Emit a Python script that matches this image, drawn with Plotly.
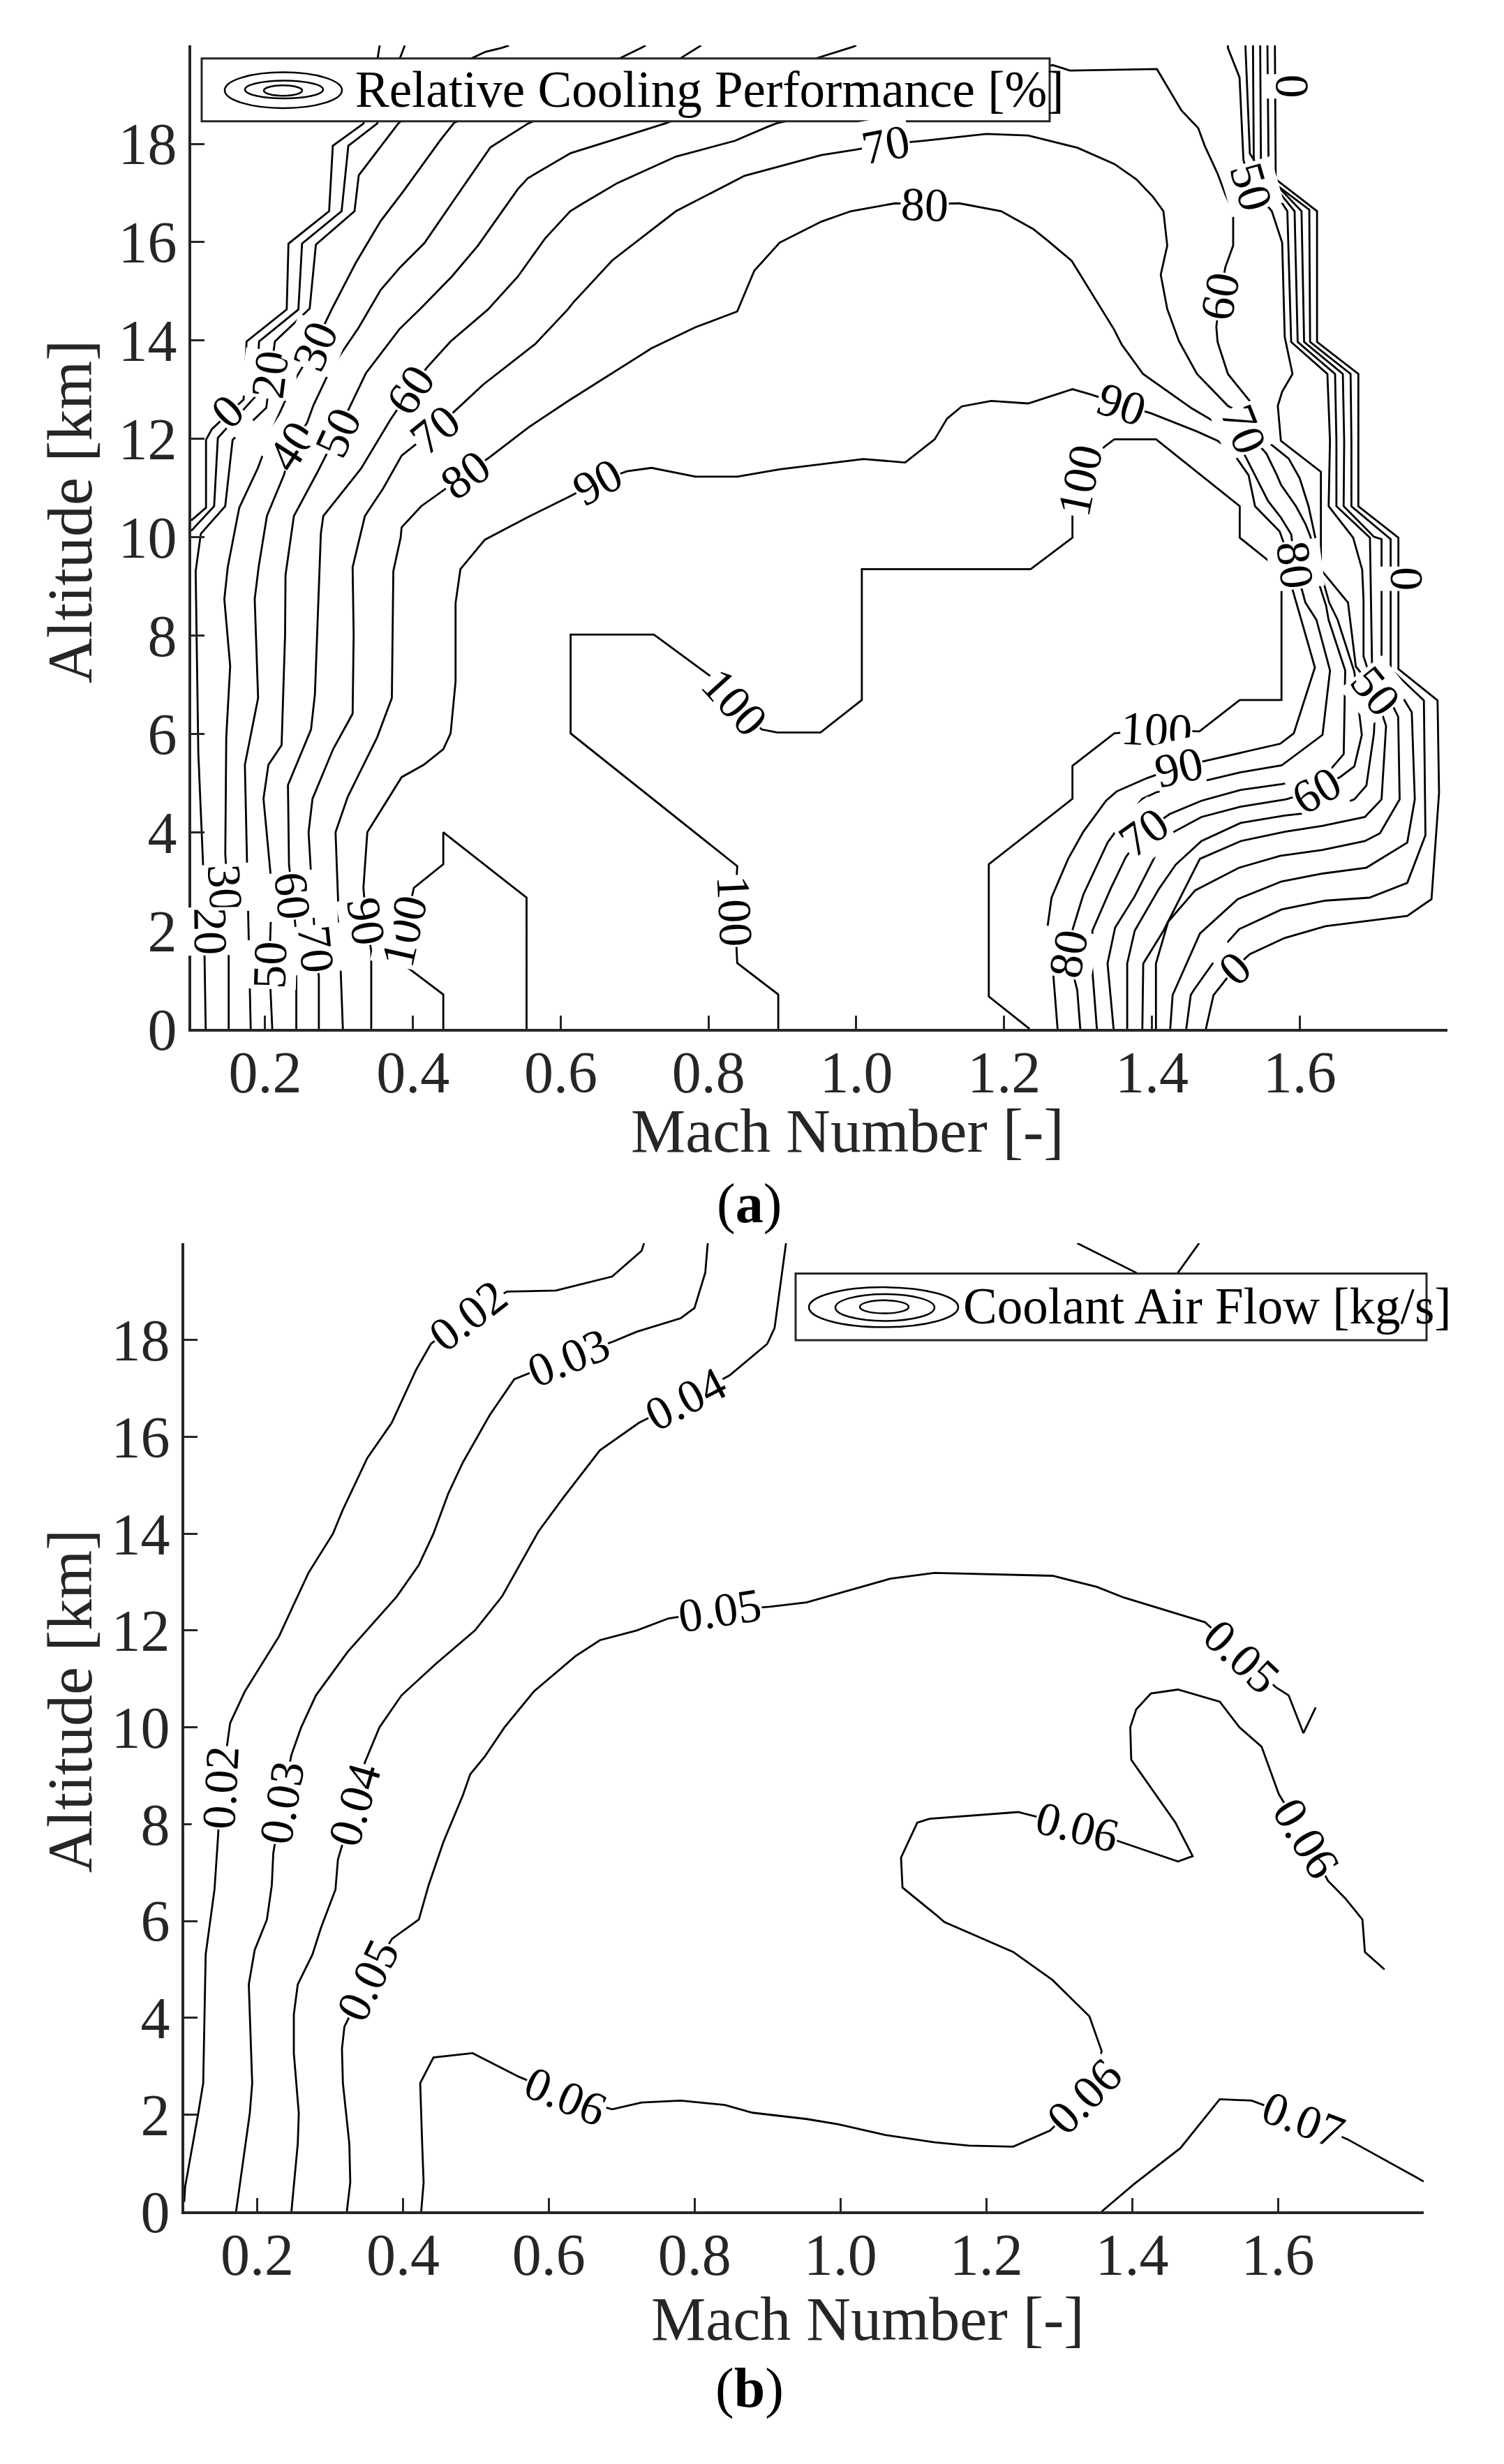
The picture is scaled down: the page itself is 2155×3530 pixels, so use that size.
import math

import plotly.graph_objects as go

# ---------------------------------------------------------------------------
# axis ticks
mach_ticks = [0.2, 0.4, 0.6, 0.8, 1.0, 1.2, 1.4, 1.6]
mach_tick_text = ["0.2", "0.4", "0.6", "0.8", "1.0", "1.2", "1.4", "1.6"]
alt_ticks = [0, 2, 4, 6, 8, 10, 12, 14, 16, 18, 20]
alt_tick_text = ["0", "2", "4", "6", "8", "10", "12", "14", "16", "18", ""]

# ---------------------------------------------------------------------------
# (a) relative cooling performance [%]  -- contour lines as (Mach, altitude km)
a_000_left = [(0.355, 20.0), (0.352, 19.72), (0.333, 18.41), (0.2916, 17.96), (0.2866, 16.63),
              (0.2316, 15.97), (0.2292, 14.63), (0.1749, 13.98), (0.1709, 12.80), (0.128, 12.2),
              (0.12, 11.98), (0.12, 10.6), (0.1, 10.34)]
a_010_left = [(0.389, 20.0), (0.382, 19.72), (0.3515, 18.41), (0.3126, 17.96), (0.3035, 16.63),
              (0.250, 15.97), (0.245, 14.63), (0.1918, 13.98), (0.188, 12.88), (0.136, 12.02),
              (0.131, 10.63), (0.1, 10.13)]
a_020_left = [(0.53, 20.0), (0.52, 19.95), (0.498, 19.87), (0.478, 19.73), (0.38, 18.41),
              (0.3267, 17.36), (0.321, 16.63), (0.2687, 15.95), (0.2603, 14.65), (0.2132, 13.98),
              (0.2015, 12.63), (0.174, 12.24), (0.156, 11.98), (0.146, 10.63), (0.113, 10.07),
              (0.106, 9.31), (0.1096, 5.61), (0.116, 3.35), (0.118, 1.26), (0.1196, 0.0)]
a_030_left = [(0.715, 20.0), (0.71, 19.96), (0.68, 19.74), (0.456, 18.43), (0.4374, 18.08),
              (0.4205, 17.73), (0.3868, 17.03), (0.3564, 16.43), (0.3227, 15.58), (0.2906, 14.65),
              (0.2788, 14.28), (0.2677, 13.88), (0.24, 13.2), (0.211, 12.24), (0.19, 11.4),
              (0.165, 10.6), (0.1494, 9.39), (0.1448, 8.74), (0.1527, 7.38), (0.1474, 5.93),
              (0.1461, 3.56), (0.1507, 2.39), (0.1507, 0.0)]
a_040_left = [(0.79, 20.0), (0.76, 19.72), (0.5555, 18.41), (0.5049, 17.93), (0.4543, 16.83),
              (0.4155, 15.98), (0.3834, 15.5), (0.3564, 15.03), (0.3261, 14.25), (0.2889, 13.43),
              (0.2653, 12.68), (0.2569, 12.33), (0.236, 11.85), (0.2256, 11.27), (0.2024, 10.43),
              (0.1912, 9.39), (0.1859, 8.74), (0.1905, 6.73), (0.1726, 5.37), (0.176, 3.19),
              (0.1805, 0.0)]
a_050_left = [(1.0, 20.0), (0.993, 19.96), (0.946, 19.74), (0.7428, 18.42), (0.6665, 18.06),
              (0.6135, 17.81), (0.5555, 17.3), (0.542, 17.08), (0.488, 15.93), (0.4526, 15.3),
              (0.4104, 14.65), (0.3817, 14.23), (0.3362, 13.33), (0.3159, 12.7), (0.298, 12.13),
              (0.27, 11.3), (0.2389, 10.43), (0.2276, 9.23), (0.227, 8.02), (0.2223, 5.77),
              (0.2044, 5.37), (0.1978, 4.68), (0.2091, 2.87), (0.2057, 1.30), (0.2097, 0.0)]
a_060 = [(0.2422, 0.0), (0.2422, 1.91), (0.2369, 2.71), (0.2323, 3.35), (0.2309, 4.96),
         (0.2621, 6.09), (0.2674, 6.81), (0.2754, 10.07), (0.2787, 10.43), (0.33, 11.4),
         (0.37, 12.4), (0.397, 13.0), (0.4189, 13.45), (0.4509, 13.98), (0.5015, 14.63),
         (0.542, 15.3), (0.5791, 16.08), (0.6129, 16.63), (0.6291, 16.78), (0.6764, 17.2),
         (0.756, 17.74), (0.8356, 18.06), (0.8806, 18.35), (0.893, 18.42), (1.1, 19.1),
         (1.2659, 19.6), (1.2892, 19.49), (1.4068, 19.52), (1.44, 18.68), (1.4627, 18.32),
         (1.4715, 17.96), (1.489, 17.39), (1.4994, 16.97), (1.51, 16.63), (1.51, 15.93),
         (1.4994, 15.49), (1.4924, 14.9), (1.4872, 14.28), (1.4889, 13.97), (1.5029, 13.32),
         (1.5151, 13.09), (1.5379, 12.67), (1.5553, 11.96), (1.585, 11.6), (1.60, 11.2),
         (1.612, 10.63), (1.621, 10.0), (1.63, 9.2), (1.64, 8.67), (1.6514, 8.32),
         (1.674, 7.26), (1.6841, 5.98), (1.674, 5.34), (1.6554, 5.13), (1.6227, 4.86),
         (1.5817, 4.67), (1.5202, 4.52), (1.467, 4.31), (1.4301, 4.01), (1.4076, 3.61),
         (1.3768, 2.7), (1.3502, 2.06), (1.34, 1.33), (1.3482, 0.0)]
a_070 = [(0.2727, 0.0), (0.2727, 1.06), (0.2687, 1.63), (0.2654, 2.31), (0.2588, 4.0),
         (0.2641, 4.68), (0.292, 5.69), (0.3184, 6.41), (0.3198, 8.02), (0.3184, 9.39),
         (0.335, 10.43), (0.36, 11.0), (0.3848, 11.66), (0.43, 12.2), (0.4577, 12.58),
         (0.4948, 13.1), (0.5656, 13.93), (0.6095, 14.63), (0.6168, 14.77), (0.6698, 15.63),
         (0.756, 16.63), (0.8488, 17.35), (0.9529, 17.77), (0.9995, 17.88), (1.0395, 17.99),
         (1.0894, 18.06), (1.176, 18.2), (1.2326, 18.17), (1.2992, 17.92), (1.3492, 17.59),
         (1.3789, 17.28), (1.4016, 16.92), (1.4156, 16.63), (1.4208, 15.93), (1.412, 15.34),
         (1.4208, 14.64), (1.4365, 13.99), (1.461, 13.32), (1.5029, 12.67), (1.5151, 12.57),
         (1.525, 12.2), (1.555, 11.7), (1.5693, 11.26), (1.5746, 11.07), (1.595, 10.63),
         (1.6078, 10.27), (1.6147, 10.01), (1.6235, 9.18), (1.6357, 8.61), (1.6391, 8.32),
         (1.6616, 7.29), (1.6596, 5.59), (1.635, 5.16), (1.5756, 4.98), (1.5202, 4.86),
         (1.467, 4.64), (1.424, 4.37), (1.3891, 4.0), (1.3646, 3.49), (1.3441, 2.85),
         (1.3195, 2.0), (1.3187, 1.33), (1.3256, 0.0)]
a_080 = [(0.3052, 0.0), (0.2986, 2.87), (0.2953, 4.0), (0.3118, 4.72), (0.3516, 5.93),
         (0.3715, 6.73), (0.3735, 9.31), (0.3834, 9.99), (0.3847, 10.2), (0.4112, 10.63),
         (0.4709, 11.27), (0.504, 11.63), (0.557, 12.24), (0.61, 12.77), (0.7228, 13.84),
         (0.7824, 14.27), (0.8388, 14.59), (0.862, 15.42), (0.8963, 15.99), (0.953, 16.42),
         (0.9929, 16.63), (1.0528, 16.79), (1.0928, 16.77), (1.1394, 16.79), (1.196, 16.63),
         (1.2392, 16.27), (1.2583, 16.04), (1.2915, 15.62), (1.349, 14.22), (1.3591, 13.92),
         (1.388, 13.32), (1.454, 12.62), (1.489, 12.31), (1.5169, 11.93), (1.5483, 11.0),
         (1.557, 10.74), (1.5746, 10.4), (1.5885, 10.06), (1.5938, 9.44), (1.6043, 8.85),
         (1.6078, 8.67), (1.6227, 8.32), (1.6411, 7.29), (1.6309, 5.98), (1.5756, 5.36),
         (1.5202, 5.22), (1.4178, 4.86), (1.4055, 4.81), (1.3871, 4.68), (1.3564, 4.13),
         (1.34, 3.79), (1.3072, 2.73), (1.2929, 2.03), (1.2867, 1.52), (1.299, 0.79),
         (1.3031, 0.0)]
a_090 = [(0.3436, 0.0), (0.3436, 1.58), (0.337, 2.19), (0.333, 2.87), (0.3383, 4.0),
         (0.3847, 5.12), (0.4145, 5.37), (0.4411, 5.69), (0.451, 6.01), (0.4577, 7.06),
         (0.4577, 8.66), (0.4643, 9.35), (0.4974, 9.95), (0.5571, 10.42), (0.6135, 10.84),
         (0.65, 11.13), (0.6897, 11.34), (0.7229, 11.41), (0.7825, 11.23), (0.8389, 11.23),
         (0.8963, 11.38), (0.953, 11.49), (1.0095, 11.59), (1.0661, 11.52), (1.1061, 11.99),
         (1.1227, 12.41), (1.1427, 12.66), (1.1826, 12.77), (1.2326, 12.72), (1.2925, 13.01),
         (1.3158, 12.91), (1.359, 12.7), (1.399, 12.52), (1.461, 12.15), (1.489, 11.96),
         (1.5082, 11.75), (1.5309, 11.26), (1.5396, 10.63), (1.5728, 10.12), (1.5816, 9.75),
         (1.5885, 9.03), (1.6025, 8.3), (1.6206, 7.35), (1.592, 6.01), (1.5735, 5.80),
         (1.4752, 5.46), (1.4365, 5.33), (1.3932, 5.1), (1.3523, 4.83), (1.3379, 4.64),
         (1.3072, 4.01), (1.2867, 3.46), (1.2642, 2.67), (1.2589, 2.09), (1.2654, 1.33),
         (1.2724, 0.0)]
a_100_left = [(0.5538, 0.0), (0.5538, 2.67), (0.4411, 4.0), (0.4411, 3.35), (0.4013, 2.87),
              (0.388, 1.99), (0.3847, 1.34), (0.4411, 0.70), (0.4411, 0.0)]
a_100_mid = [(0.8944, 0.0), (0.8944, 0.70), (0.8389, 1.34), (0.8356, 2.4), (0.8389, 3.31),
             (0.6134, 6.01), (0.6134, 8.02), (0.7261, 8.02), (0.8057, 7.14), (0.8356, 6.65),
             (0.872, 6.09), (0.893, 6.03), (0.9516, 6.03), (1.0075, 6.69), (1.0075, 9.35),
             (1.236, 9.35), (1.2925, 9.99), (1.2925, 10.45), (1.3025, 11.16), (1.3358, 11.84),
             (1.3491, 11.99), (1.4057, 11.99), (1.5189, 10.63), (1.5189, 9.99), (1.5754, 9.31),
             (1.5754, 6.69), (1.5189, 6.69), (1.4643, 6.05), (1.4057, 6.09), (1.3491, 6.01),
             (1.2925, 5.35), (1.2925, 4.68), (1.1793, 3.35), (1.1793, 0.66), (1.2346, 0.0)]
a_050_right = [(1.5029, 20.0), (1.5029, 19.95), (1.5186, 19.35), (1.5239, 17.67), (1.5344, 17.13),
               (1.5623, 16.63), (1.5763, 15.99), (1.5798, 14.07), (1.5903, 13.32), (1.5763, 12.96),
               (1.5704, 12.67), (1.5746, 11.96), (1.6287, 11.33), (1.6287, 9.34), (1.6654, 8.67),
               (1.6742, 7.58), (1.676, 7.37), (1.703, 6.87), (1.7005, 6.01), (1.6903, 4.95),
               (1.674, 4.67), (1.6329, 4.43), (1.5797, 4.34), (1.5202, 4.19), (1.467, 3.82),
               (1.4322, 3.34), (1.4096, 2.85), (1.3768, 2.0), (1.3666, 1.33), (1.3666, 0.0)]
a_040_right = [(1.5267, 20.0), (1.5267, 19.95), (1.5326, 17.8), (1.5833, 16.63), (1.5885, 13.97),
               (1.6375, 13.32), (1.641, 11.96), (1.6392, 10.63), (1.6724, 9.99), (1.6846, 9.34),
               (1.6864, 8.72), (1.6864, 7.58), (1.7169, 6.16), (1.7108, 4.67), (1.6882, 4.31),
               (1.6309, 4.13), (1.5797, 4.01), (1.5202, 3.82), (1.465, 3.46), (1.4158, 2.0),
               (1.3883, 1.33), (1.3871, 0.0)]
a_030_right = [(1.5368, 20.0), (1.5368, 19.95), (1.5379, 17.65), (1.5931, 16.63), (1.5973, 13.97),
               (1.6479, 13.32), (1.6497, 11.96), (1.6497, 10.63), (1.6951, 9.99), (1.6979, 7.42),
               (1.7333, 6.35), (1.7353, 4.67), (1.7087, 3.98), (1.6882, 3.82), (1.6309, 3.64),
               (1.5735, 3.52), (1.5182, 3.28), (1.4588, 2.82), (1.422, 2.18), (1.4055, 1.33),
               (1.4055, 0.0)]
a_020_right = [(1.5466, 20.0), (1.5466, 19.95), (1.5476, 17.49), (1.6025, 16.63), (1.606, 13.97),
               (1.6584, 13.32), (1.6602, 11.96), (1.6595, 10.63), (1.7004, 10.01), (1.7108, 9.96),
               (1.7108, 7.45), (1.7517, 6.44), (1.7558, 4.67), (1.7456, 3.79), (1.6903, 3.28),
               (1.6309, 3.16), (1.5756, 3.0), (1.5161, 2.64), (1.465, 1.94), (1.4281, 0.69),
               (1.4248, 0.0)]
a_010_right = [(1.5564, 20.0), (1.5564, 19.95), (1.5581, 17.28), (1.613, 16.66), (1.6141, 13.97),
               (1.6689, 13.32), (1.67, 11.96), (1.67, 10.63), (1.7231, 9.96), (1.7231, 7.32),
               (1.7681, 6.68), (1.7702, 3.94), (1.7456, 2.97), (1.6944, 2.67), (1.635, 2.61),
               (1.5756, 2.43), (1.5182, 2.03), (1.5038, 1.79), (1.4567, 0.79), (1.4526, 0.69),
               (1.4465, 0.0)]
a_000_right = [(1.5665, 20.0), (1.5665, 19.95), (1.5676, 17.28), (1.6235, 16.63), (1.6235, 13.97),
               (1.6794, 13.32), (1.6794, 11.96), (1.6794, 10.63), (1.7336, 9.99), (1.7336, 7.32),
               (1.7866, 6.68), (1.7886, 4.8), (1.7784, 2.64), (1.7456, 2.3), (1.635, 2.09),
               (1.5797, 1.85), (1.5325, 1.52), (1.5121, 1.24), (1.4936, 0.88), (1.4834, 0.69),
               (1.4731, 0.0)]

a_label_text = ["0", "20", "30", "40", "50", "60", "70", "80", "90",
                "70", "80", "0", "50", "60", "90", "100", "70", "80", "0", "50",
                "100", "90", "70", "60", "80", "0", "100", "100", "100", "90",
                "70", "60", "50", "30", "20"]
a_label_mach = [0.149, 0.2063, 0.2677, 0.236, 0.298, 0.397, 0.43, 0.4709, 0.65,
                1.0395, 1.0928, 1.5903, 1.5344, 1.4924, 1.359, 1.3025, 1.525, 1.5938, 1.7458, 1.703,
                1.4057, 1.4365, 1.3891, 1.6227, 1.2867, 1.5121, 0.8356, 0.8356, 0.388, 0.337,
                0.2687, 0.2369, 0.2057, 0.146, 0.1262]
a_label_alt = [12.56, 13.3, 13.88, 11.85, 12.13, 13.0, 12.2, 11.27, 11.13,
               17.99, 16.77, 19.17, 17.13, 14.9, 12.7, 11.16, 12.2, 9.44, 9.16, 6.87,
               6.09, 5.33, 4.0, 4.86, 1.52, 1.24, 6.65, 2.4, 1.99, 2.19,
               1.63, 2.71, 1.30, 2.87, 1.99]

# ---------------------------------------------------------------------------
# (b) coolant air flow [kg/s]
b_002 = [(0.1, 0.2), (0.1012, 0.51), (0.1192, 2.03), (0.126, 2.65), (0.1294, 5.31), (0.1361, 6.03),
         (0.1415, 6.65), (0.1462, 7.71), (0.15, 8.75), (0.1596, 9.72), (0.163, 10.09),
         (0.1831, 10.74), (0.21, 11.39), (0.2301, 11.88), (0.2503, 12.54), (0.2704, 13.19),
         (0.304, 14.0), (0.3174, 14.49), (0.351, 15.56), (0.3846, 16.29), (0.4182, 17.39),
         (0.4383, 17.92), (0.4887, 18.5), (0.5425, 19.0), (0.6097, 19.02), (0.6668, 19.23),
         (0.6869, 19.31), (0.7272, 19.84), (0.7306, 20.0)]
b_003 = [(0.1711, 0.0), (0.1899, 2.03), (0.1932, 2.65), (0.1885, 4.69), (0.1966, 5.4),
         (0.2134, 6.03), (0.2201, 6.74), (0.2221, 7.4), (0.234, 8.45), (0.247, 9.43),
         (0.2604, 10.0), (0.2806, 10.66), (0.3242, 11.56), (0.3578, 12.13), (0.3914, 12.7),
         (0.4216, 13.35), (0.4418, 14.0), (0.4619, 14.82), (0.4821, 15.47), (0.519, 16.45),
         (0.5526, 17.19), (0.6265, 17.64), (0.687, 17.96), (0.7206, 18.17), (0.781, 18.45),
         (0.7998, 18.66), (0.8146, 19.39), (0.818, 20.0)]
b_004 = [(0.247, 0.0), (0.2557, 1.4), (0.2571, 2.03), (0.2503, 3.27), (0.2503, 4.07),
         (0.2557, 4.69), (0.2759, 5.31), (0.2873, 5.85), (0.3074, 6.65), (0.3108, 7.27),
         (0.333, 8.4), (0.3476, 9.27), (0.3677, 10.0), (0.398, 10.66), (0.445, 11.31),
         (0.4987, 12.0), (0.5357, 12.7), (0.586, 14.05), (0.6197, 14.74), (0.67, 15.72),
         (0.7238, 16.29), (0.7877, 16.78), (0.8481, 17.27), (0.8996, 17.92), (0.9097, 18.25),
         (0.9185, 19.23), (0.9253, 20.0)]
b_005 = [(0.323, 0.0), (0.3277, 0.6), (0.3264, 1.4), (0.3176, 2.65), (0.3163, 3.36),
         (0.3197, 3.82), (0.3513, 4.78), (0.3849, 5.63), (0.4218, 6.03), (0.4352, 6.74),
         (0.4554, 7.63), (0.4822, 8.6), (0.4922, 9.03), (0.5124, 9.4), (0.5392, 10.0),
         (0.5795, 10.74), (0.6366, 11.47), (0.6702, 11.8), (0.7206, 12.0), (0.7643, 12.25),
         (0.8348, 12.41), (0.903, 12.49), (0.9536, 12.58), (1.0683, 13.07), (1.129, 13.19),
         (1.2909, 13.13), (1.3516, 12.9), (1.3887, 12.68), (1.5, 12.17), (1.5506, 11.47),
         (1.5978, 10.82), (1.6147, 10.66), (1.635, 9.88), (1.6518, 10.41)]
b_006 = [(0.425, 0.0), (0.4283, 0.6), (0.4263, 1.4), (0.4236, 2.65), (0.4418, 3.18),
         (0.4955, 3.27), (0.5593, 2.78), (0.6231, 2.38), (0.6869, 2.11), (0.7272, 2.25),
         (0.781, 2.29), (0.8414, 2.2), (0.8794, 2.04), (0.9536, 1.91), (0.9974, 1.8),
         (1.0615, 1.58), (1.129, 1.43), (1.1762, 1.36), (1.2369, 1.34), (1.2875, 1.67),
         (1.3347, 2.38), (1.3583, 3.31), (1.3415, 4.03), (1.2909, 4.78), (1.2369, 5.36),
         (1.1425, 5.98), (1.1324, 6.11), (1.0851, 6.69), (1.0831, 7.31), (1.1054, 8.03),
         (1.1222, 8.11), (1.2437, 8.25), (1.3246, 7.94), (1.3853, 7.63), (1.4494, 7.31),
         (1.4629, 7.23), (1.4831, 7.34), (1.4595, 8.03), (1.3988, 9.33), (1.3975, 10.0),
         (1.4056, 10.37), (1.4258, 10.7), (1.4629, 10.78), (1.5203, 10.53), (1.5472, 10.0),
         (1.5776, 9.6), (1.6012, 8.62), (1.6383, 7.71), (1.6686, 6.83), (1.6922, 6.47),
         (1.7159, 6.03), (1.7193, 5.36), (1.7462, 5.0)]
b_007 = [(1.3583, 0.0), (1.4022, 0.56), (1.4663, 1.31), (1.5202, 2.32), (1.5641, 2.29),
         (1.6349, 1.89), (1.6956, 1.49), (1.8, 0.62)]
b_top = [(1.3246, 20.0), (1.4056, 19.39), (1.43, 19.0), (1.4629, 19.39), (1.4919, 20.0)]

b_label_text = ["0.02", "0.02", "0.03", "0.03", "0.04", "0.04", "0.05", "0.05", "0.05",
                "0.06", "0.06", "0.06", "0.06", "0.07"]
b_label_mach = [0.15, 0.4887, 0.234, 0.6265, 0.333, 0.7877, 0.3513, 0.8348, 1.5506,
                0.6231, 1.3347, 1.3246, 1.6383, 1.6349]
b_label_alt = [8.75, 18.5, 8.45, 17.64, 8.4, 16.78, 4.78, 12.41, 11.47,
               2.38, 2.38, 7.94, 7.71, 1.89]

# ---------------------------------------------------------------------------
W, H = 2155, 3530
A_BOX = (274, 2074, 66, 1494)    # left, right, top, bottom (page px)
B_BOX = (264, 2040, 1805, 3211)
AXIS_COLOR = "#262626"
SERIF = "Liberation Serif"

a_levels = {
    "0": [a_000_left, a_000_right], "10": [a_010_left, a_010_right],
    "20": [a_020_left, a_020_right], "30": [a_030_left, a_030_right],
    "40": [a_040_left, a_040_right], "50": [a_050_left, a_050_right],
    "60": [a_060], "70": [a_070], "80": [a_080], "90": [a_090],
    "100": [a_100_left, a_100_mid],
}
b_levels = {
    "0.02": [b_002], "0.03": [b_003], "0.04": [b_004], "0.05": [b_005],
    "0.06": [b_006], "0.07": [b_007], "top": [b_top],
}


def px(x):
    return x / W


def py(y):
    return 1 - y / H


def label_angle(lines, m, km, sx, sy):
    """Angle (clockwise deg) of the contour segment nearest to the label."""
    X, Y = m * sx, -km * sy
    best_d, best_a = None, 0.0
    for pts in lines:
        for (m0, k0), (m1, k1) in zip(pts[:-1], pts[1:]):
            x0, y0, x1, y1 = m0 * sx, -k0 * sy, m1 * sx, -k1 * sy
            dx, dy = x1 - x0, y1 - y0
            l2 = dx * dx + dy * dy
            if l2 == 0:
                continue
            t = max(0.0, min(1.0, ((X - x0) * dx + (Y - y0) * dy) / l2))
            d = math.hypot(x0 + t * dx - X, y0 + t * dy - Y)
            if best_d is None or d < best_d:
                best_d = d
                best_a = math.degrees(math.atan2(dy, dx))
    if best_a > 90:
        best_a -= 180
    elif best_a <= -90:
        best_a += 180
    return best_a


fig = go.Figure()

for levels, xa, ya in ((a_levels, "x", "y"), (b_levels, "x2", "y2")):
    for lines in levels.values():
        for pts in lines:
            fig.add_trace(go.Scatter(
                x=[p[0] for p in pts], y=[p[1] for p in pts],
                mode="lines", line=dict(color="black", width=2.8),
                xaxis=xa, yaxis=ya, hoverinfo="skip", showlegend=False,
            ))

annotations = []
for texts, ms, kms, levels, box, xr, yr in (
    (a_label_text, a_label_mach, a_label_alt, a_levels, A_BOX, "x", "y"),
    (b_label_text, b_label_mach, b_label_alt, b_levels, B_BOX, "x2", "y2"),
):
    sx = (box[1] - box[0]) / 1.7
    sy = (box[3] - box[2]) / 20.0
    for t, m, km in zip(texts, ms, kms):
        ang = label_angle(levels[t], m, km, sx, sy)
        annotations.append(dict(
            x=m, y=km, xref=xr, yref=yr, text=t, showarrow=False,
            textangle=ang, font=dict(family=SERIF, size=68, color="black"),
            bgcolor="white", borderpad=0, xanchor="center", yanchor="middle",
        ))

# axis titles and captions
for cx, cy in ((100, 743), (100, 2470)):
    annotations.append(dict(x=px(cx), y=py(cy), xref="paper", yref="paper",
                            text="Altitude [km]", textangle=-90, showarrow=False,
                            font=dict(family=SERIF, size=90, color=AXIS_COLOR),
                            xanchor="center", yanchor="middle"))
for cx, cy in ((1214, 1642), (1243, 3367)):
    annotations.append(dict(x=px(cx), y=py(cy), xref="paper", yref="paper",
                            text="Mach Number [-]", showarrow=False,
                            font=dict(family=SERIF, size=88, color=AXIS_COLOR),
                            xanchor="center", yanchor="middle"))
for cx, cy, letter in ((1073, 1748, "a"), (1074, 3468, "b")):
    annotations.append(dict(x=px(cx), y=py(cy), xref="paper", yref="paper",
                            text=f"(<b>{letter}</b>)", showarrow=False,
                            font=dict(family=SERIF, size=80, color="black"),
                            xanchor="center", yanchor="middle"))

# legends (box + concentric ellipse icon + text)
shapes = []
legends = [
    ((289, 85, 1504, 176),
     [(322, 105, 490, 157), (351, 117, 463, 143), (378, 124, 433, 139)],
     (507, 130), "Relative Cooling Performance [%]"),
    ((1140, 1849, 2044, 1946),
     [(1159, 1869, 1373, 1927), (1197, 1879, 1339, 1918), (1232, 1888, 1302, 1907)],
     (1378, 1897), "Coolant Air Flow [kg/s]"),
]
for (bx0, by0, bx1, by1), ells, (tx, ty), text in legends:
    shapes.append(dict(type="rect", xref="paper", yref="paper",
                       x0=px(bx0), x1=px(bx1), y0=py(by1), y1=py(by0),
                       fillcolor="white", line=dict(color=AXIS_COLOR, width=3)))
    for ex0, ey0, ex1, ey1 in ells:
        shapes.append(dict(type="circle", xref="paper", yref="paper",
                           x0=px(ex0), x1=px(ex1), y0=py(ey1), y1=py(ey0),
                           line=dict(color="black", width=2.5)))
    annotations.append(dict(x=px(tx), y=py(ty), xref="paper", yref="paper",
                            text=text, showarrow=False,
                            font=dict(family=SERIF, size=73, color="black"),
                            xanchor="left", yanchor="middle"))

axis_common = dict(
    showline=True, linecolor=AXIS_COLOR, linewidth=3.5, ticks="inside",
    ticklen=19, tickwidth=3, tickcolor=AXIS_COLOR, showgrid=False, zeroline=False,
    tickfont=dict(family=SERIF, size=84, color=AXIS_COLOR), mirror=False,
)
xaxis_common = dict(axis_common, range=[0.1, 1.8], tickvals=mach_ticks,
                    ticktext=mach_tick_text, ticklabelstandoff=-14)
yaxis_common = dict(axis_common, range=[0, 20], tickvals=alt_ticks,
                    ticktext=alt_tick_text)

fig.update_layout(
    width=W, height=H,
    margin=dict(l=0, r=0, t=0, b=0),
    paper_bgcolor="white", plot_bgcolor="white",
    showlegend=False,
    xaxis=dict(xaxis_common, domain=[px(A_BOX[0]), px(A_BOX[1])], anchor="y"),
    yaxis=dict(yaxis_common, domain=[py(A_BOX[3]), py(A_BOX[2])], anchor="x"),
    xaxis2=dict(xaxis_common, domain=[px(B_BOX[0]), px(B_BOX[1])], anchor="y2"),
    yaxis2=dict(yaxis_common, domain=[py(B_BOX[3]), py(B_BOX[2])], anchor="x2"),
    shapes=shapes,
    annotations=annotations,
)

fig.write_html(
    "out.html",
    config={"displayModeBar": False},
    post_script="document.body.style.margin='0px';document.body.style.overflow='hidden';",
)
